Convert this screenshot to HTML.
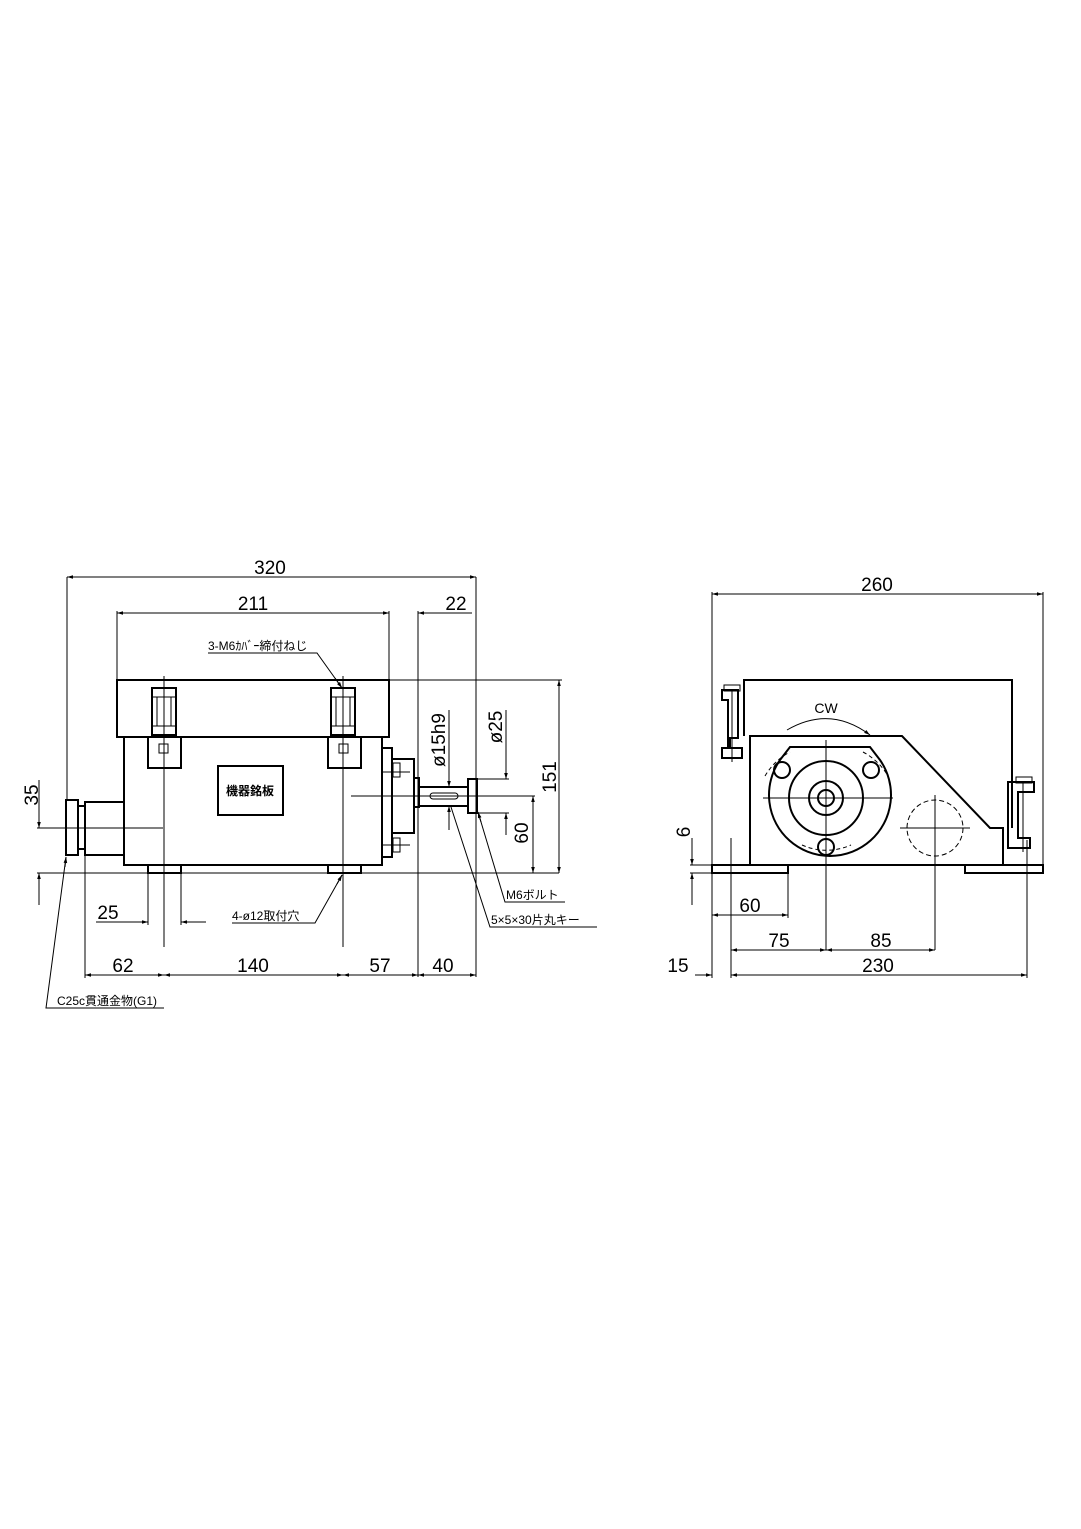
<!DOCTYPE html>
<html><head><meta charset="utf-8"><style>
html,body{margin:0;padding:0;background:#fff}
svg{display:block}
text{font-family:"Liberation Sans","Noto Sans CJK JP",sans-serif;fill:#000}
</style></head><body>
<svg width="1081" height="1529" viewBox="0 0 1081 1529" xmlns="http://www.w3.org/2000/svg">
<defs>
<marker id="a" viewBox="0 0 10 10" refX="10" refY="5" markerWidth="10" markerHeight="6" orient="auto-start-reverse" markerUnits="userSpaceOnUse"><path d="M0,2 L10,5 L0,8 z" fill="#000"/></marker>
</defs>
<g stroke="#000" fill="none" stroke-width="1">
<!-- LEFT VIEW dims -->
<line x1="67" y1="577" x2="476" y2="577" marker-start="url(#a)" marker-end="url(#a)"/>
<line x1="67" y1="577" x2="67" y2="800"/>
<line x1="476" y1="577" x2="476" y2="977"/>
<line x1="117" y1="613" x2="389" y2="613" marker-start="url(#a)" marker-end="url(#a)"/>
<line x1="117" y1="611" x2="117" y2="680"/>
<line x1="389" y1="611" x2="389" y2="680"/>
<line x1="418" y1="613" x2="472" y2="613" marker-start="url(#a)"/>
<line x1="418" y1="611" x2="418" y2="977"/>
<!-- body -->
<g stroke-width="2">
<rect x="117" y="680" width="272" height="57"/>
<rect x="124" y="737" width="258" height="128"/>
<rect x="148" y="737" width="33" height="31"/>
<rect x="328" y="737" width="33" height="31"/>
<rect x="152" y="688" width="24" height="47"/>
<rect x="331" y="688" width="24" height="47"/>
<rect x="218" y="766" width="65" height="49"/>
<rect x="382" y="748" width="10" height="109"/>
<rect x="392" y="759" width="22" height="74"/>
<rect x="414" y="778" width="5" height="29"/>
<rect x="419" y="787" width="49" height="19"/>
<rect x="468" y="779" width="9" height="34"/>
<rect x="66" y="800" width="12" height="55"/>
<rect x="78" y="806" width="7" height="43"/>
<rect x="85" y="802" width="39" height="53"/>
<rect x="148" y="865" width="33" height="8"/>
<rect x="328" y="865" width="33" height="8"/>
</g>
<rect x="159" y="744" width="9" height="9"/><rect x="339" y="744" width="9" height="9"/>
<line x1="152" y1="697" x2="176" y2="697"/><line x1="331" y1="697" x2="355" y2="697"/>
<line x1="152" y1="726" x2="176" y2="726"/><line x1="331" y1="726" x2="355" y2="726"/>
<line x1="157" y1="697" x2="157" y2="726"/><line x1="171" y1="697" x2="171" y2="726"/>
<line x1="336" y1="697" x2="336" y2="726"/><line x1="350" y1="697" x2="350" y2="726"/>
<rect x="430" y="793" width="28" height="6" rx="3"/>
<rect x="393" y="763" width="7" height="14"/><rect x="393" y="838" width="7" height="14"/>
<!-- center lines -->
<line x1="164" y1="676" x2="164" y2="947"/>
<line x1="343" y1="676" x2="343" y2="947"/>
<line x1="351" y1="796" x2="535" y2="796"/>
<line x1="37" y1="828" x2="163" y2="828"/>
<line x1="37" y1="873" x2="559" y2="873"/>
<line x1="383" y1="772" x2="410" y2="772"/><line x1="383" y1="845" x2="410" y2="845"/>
<!-- right dims -->
<line x1="389" y1="680" x2="562" y2="680"/>
<line x1="559" y1="680" x2="559" y2="873" marker-start="url(#a)" marker-end="url(#a)"/>
<line x1="533" y1="796" x2="533" y2="873" marker-start="url(#a)" marker-end="url(#a)"/>
<line x1="477" y1="779" x2="509" y2="779"/><line x1="477" y1="813" x2="509" y2="813"/>
<line x1="506" y1="710" x2="506" y2="779" marker-end="url(#a)"/>
<line x1="506" y1="835" x2="506" y2="813" marker-end="url(#a)"/>
<line x1="449" y1="710" x2="449" y2="787" marker-end="url(#a)"/>
<line x1="449" y1="830" x2="449" y2="806" marker-end="url(#a)"/>
<line x1="39" y1="780" x2="39" y2="828" marker-end="url(#a)"/>
<line x1="39" y1="905" x2="39" y2="873" marker-end="url(#a)"/>
<!-- 25 -->
<line x1="148" y1="873" x2="148" y2="925"/><line x1="181" y1="873" x2="181" y2="925"/>
<line x1="96" y1="922" x2="148" y2="922" marker-end="url(#a)"/>
<line x1="206" y1="922" x2="181" y2="922" marker-end="url(#a)"/>
<!-- bottom chain -->
<line x1="85" y1="855" x2="85" y2="978"/>
<line x1="85" y1="975" x2="164" y2="975" marker-start="url(#a)" marker-end="url(#a)"/>
<line x1="164" y1="975" x2="343" y2="975" marker-start="url(#a)" marker-end="url(#a)"/>
<line x1="343" y1="975" x2="418" y2="975" marker-start="url(#a)" marker-end="url(#a)"/>
<line x1="418" y1="975" x2="476" y2="975" marker-start="url(#a)" marker-end="url(#a)"/>
<!-- leaders -->
<polyline points="208,653 317,653 342,688" /><line x1="335" y1="678" x2="342" y2="688" marker-end="url(#a)"/>
<polyline points="232,923 315,923 342,875"/><line x1="337" y1="884" x2="342" y2="875" marker-end="url(#a)"/>
<polyline points="164,1008 46,1008 66,857"/><line x1="65" y1="867" x2="66" y2="857" marker-end="url(#a)"/>
<polyline points="565,902 505,902 478,812"/><line x1="481" y1="822" x2="478" y2="812" marker-end="url(#a)"/>
<polyline points="597,927 490,927 451,807"/>

<!-- RIGHT VIEW -->
<line x1="712" y1="594" x2="1043" y2="594" marker-start="url(#a)" marker-end="url(#a)"/>
<line x1="712" y1="592" x2="712" y2="978"/>
<line x1="1043" y1="592" x2="1043" y2="865"/>
<g stroke-width="2">
<path d="M744,736 V680 H1012 V828"/>
<path d="M750,865 V736 H902 L990,828 H1003 V865"/>
<rect x="712" y="865" width="76" height="8"/>
<rect x="965" y="865" width="78" height="8"/>
<line x1="712" y1="865" x2="1043" y2="865"/>
<path d="M790,747 H870 L880,760 A61,61 0 1 1 780,760 Z"/>
<circle cx="826" cy="798" r="37"/>
<circle cx="826" cy="798" r="17"/>
<circle cx="826" cy="798" r="8"/>
<circle cx="782" cy="770" r="8"/><circle cx="871" cy="770" r="8"/><circle cx="826" cy="847" r="8"/>
<path d="M722,690 H738 V738 H730 V748 H742 V758 H722 V748 H728 V700 H722 Z"/>
<path d="M1008,782 H1034 V792 H1018 V838 H1030 V848 H1008 Z"/>
</g>
<rect x="724" y="685" width="16" height="6"/><rect x="1016" y="777" width="16" height="6"/>
<line x1="732" y1="690" x2="732" y2="762"/><line x1="1023" y1="782" x2="1023" y2="852"/>
<path d="M765,776 A63,63 0 0 1 790,752" stroke-dasharray="4,3"/>
<path d="M863,752 A63,63 0 0 1 888,776" stroke-dasharray="4,3"/>
<path d="M802,845 A60,60 0 0 0 851,845" stroke-dasharray="4,3"/>
<circle cx="935" cy="828" r="28" stroke-dasharray="5,3"/>
<line x1="826" y1="740" x2="826" y2="950"/>
<line x1="763" y1="798" x2="893" y2="798"/>
<line x1="935" y1="795" x2="935" y2="950"/>
<line x1="900" y1="828" x2="970" y2="828"/>
<path d="M787,730 Q830,705 870,735" marker-end="url(#a)"/>
<!-- dims -->
<line x1="692" y1="838" x2="692" y2="865" marker-end="url(#a)"/>
<line x1="692" y1="905" x2="692" y2="873" marker-end="url(#a)"/>
<line x1="690" y1="865" x2="712" y2="865"/><line x1="690" y1="873" x2="712" y2="873"/>
<line x1="788" y1="873" x2="788" y2="918"/>
<line x1="712" y1="915" x2="788" y2="915" marker-start="url(#a)" marker-end="url(#a)"/>
<line x1="731" y1="838" x2="731" y2="978"/>
<line x1="1027" y1="840" x2="1027" y2="978"/>
<line x1="731" y1="950" x2="826" y2="950" marker-start="url(#a)" marker-end="url(#a)"/>
<line x1="826" y1="950" x2="935" y2="950" marker-start="url(#a)" marker-end="url(#a)"/>
<line x1="695" y1="975" x2="712" y2="975" marker-end="url(#a)"/>
<line x1="731" y1="975" x2="1027" y2="975" marker-start="url(#a)" marker-end="url(#a)"/>
</g>
<g font-size="19">
<text x="270" y="574" text-anchor="middle">320</text>
<text x="253" y="610" text-anchor="middle">211</text>
<text x="456" y="610" text-anchor="middle">22</text>
<text x="108" y="919" text-anchor="middle">25</text>
<text x="123" y="972" text-anchor="middle">62</text>
<text x="253" y="972" text-anchor="middle">140</text>
<text x="380" y="972" text-anchor="middle">57</text>
<text x="443" y="972" text-anchor="middle">40</text>
<text transform="translate(38,795) rotate(-90)" text-anchor="middle">35</text>
<text transform="translate(556,777) rotate(-90)" text-anchor="middle">151</text>
<text transform="translate(528,833) rotate(-90)" text-anchor="middle">60</text>
<text transform="translate(502,727) rotate(-90)" text-anchor="middle">ø25</text>
<text transform="translate(445,740) rotate(-90)" text-anchor="middle">ø15h9</text>
<text x="877" y="591" text-anchor="middle">260</text>
<text x="750" y="912" text-anchor="middle">60</text>
<text x="779" y="947" text-anchor="middle">75</text>
<text x="881" y="947" text-anchor="middle">85</text>
<text x="878" y="972" text-anchor="middle">230</text>
<text x="678" y="972" text-anchor="middle">15</text>
<text transform="translate(690,832) rotate(-90)" text-anchor="middle">6</text>
</g>
<g font-size="12">
<text x="208" y="650">3-M6ｶﾊﾞｰ締付ねじ</text>
<text x="232" y="920">4-ø12取付穴</text>
<text x="57" y="1005">C25c貫通金物(G1)</text>
<text x="506" y="899">M6ボルト</text>
<text x="491" y="924">5×5×30片丸キー</text>
<text x="250" y="795" text-anchor="middle" font-weight="bold">機器銘板</text>
<text x="826" y="713" text-anchor="middle" font-size="14">CW</text>
</g>
</svg>
</body></html>
